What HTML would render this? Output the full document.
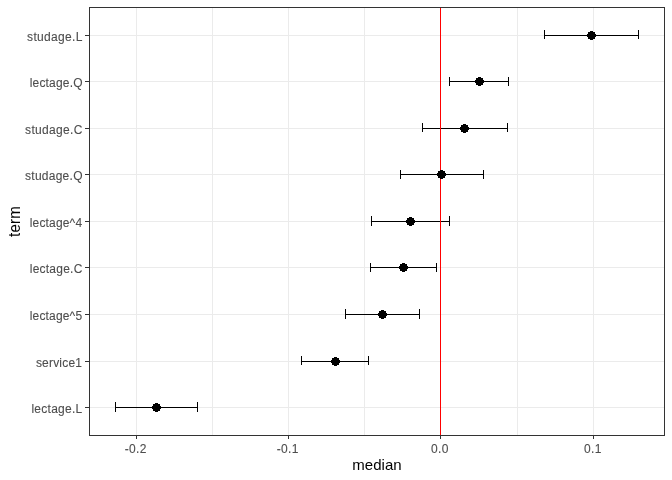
<!DOCTYPE html>
<html><head><meta charset="utf-8"><title>plot</title>
<style>
html,body{margin:0;padding:0;background:#fff;}
svg{display:block;}
text{font-family:"Liberation Sans",Arial,sans-serif;}
.ax{font-size:12px;fill:#4D4D4D;stroke:#4D4D4D;stroke-width:0.1px;}
.ti{font-size:15px;fill:#000;}
</style></head><body>
<svg width="672" height="480" viewBox="0 0 672 480">
<rect x="0" y="0" width="672" height="480" fill="#fff"/>
<g shape-rendering="crispEdges">
<rect x="212" y="7" width="1" height="428" fill="#EBEBEB"/>
<rect x="364" y="7" width="1" height="428" fill="#EBEBEB"/>
<rect x="517" y="7" width="1" height="428" fill="#EBEBEB"/>
<rect x="136" y="7" width="1" height="428" fill="#EBEBEB"/>
<rect x="288" y="7" width="1" height="428" fill="#EBEBEB"/>
<rect x="440" y="7" width="1" height="428" fill="#EBEBEB"/>
<rect x="593" y="7" width="1" height="428" fill="#EBEBEB"/>
<rect x="89" y="35" width="575" height="1" fill="#EBEBEB"/>
<rect x="89" y="81" width="575" height="1" fill="#EBEBEB"/>
<rect x="89" y="128" width="575" height="1" fill="#EBEBEB"/>
<rect x="89" y="174" width="575" height="1" fill="#EBEBEB"/>
<rect x="89" y="221" width="575" height="1" fill="#EBEBEB"/>
<rect x="89" y="267" width="575" height="1" fill="#EBEBEB"/>
<rect x="89" y="314" width="575" height="1" fill="#EBEBEB"/>
<rect x="89" y="361" width="575" height="1" fill="#EBEBEB"/>
<rect x="89" y="407" width="575" height="1" fill="#EBEBEB"/>
<rect x="544" y="35" width="95" height="1" fill="#000"/>
<rect x="544" y="30" width="1" height="9" fill="#000"/>
<rect x="638" y="30" width="1" height="9" fill="#000"/>
<rect x="449" y="81" width="60" height="1" fill="#000"/>
<rect x="449" y="77" width="1" height="9" fill="#000"/>
<rect x="508" y="77" width="1" height="9" fill="#000"/>
<rect x="422" y="128" width="86" height="1" fill="#000"/>
<rect x="422" y="123" width="1" height="9" fill="#000"/>
<rect x="507" y="123" width="1" height="9" fill="#000"/>
<rect x="400" y="174" width="84" height="1" fill="#000"/>
<rect x="400" y="170" width="1" height="9" fill="#000"/>
<rect x="483" y="170" width="1" height="9" fill="#000"/>
<rect x="371" y="221" width="79" height="1" fill="#000"/>
<rect x="371" y="216" width="1" height="10" fill="#000"/>
<rect x="449" y="216" width="1" height="10" fill="#000"/>
<rect x="370" y="267" width="67" height="1" fill="#000"/>
<rect x="370" y="263" width="1" height="9" fill="#000"/>
<rect x="436" y="263" width="1" height="9" fill="#000"/>
<rect x="345" y="314" width="75" height="1" fill="#000"/>
<rect x="345" y="309" width="1" height="10" fill="#000"/>
<rect x="419" y="309" width="1" height="10" fill="#000"/>
<rect x="301" y="361" width="68" height="1" fill="#000"/>
<rect x="301" y="356" width="1" height="9" fill="#000"/>
<rect x="368" y="356" width="1" height="9" fill="#000"/>
<rect x="115" y="407" width="83" height="1" fill="#000"/>
<rect x="115" y="402" width="1" height="10" fill="#000"/>
<rect x="197" y="402" width="1" height="10" fill="#000"/>
<rect x="440" y="7" width="1" height="428" fill="#FF0000"/>
<rect x="590" y="31" width="3" height="1" fill="#000"/>
<rect x="588" y="32" width="7" height="1" fill="#000"/>
<rect x="588" y="33" width="7" height="1" fill="#000"/>
<rect x="587" y="34" width="9" height="1" fill="#000"/>
<rect x="587" y="35" width="9" height="1" fill="#000"/>
<rect x="587" y="36" width="9" height="1" fill="#000"/>
<rect x="588" y="37" width="7" height="1" fill="#000"/>
<rect x="588" y="38" width="7" height="1" fill="#000"/>
<rect x="590" y="39" width="3" height="1" fill="#000"/>
<rect x="478" y="77" width="3" height="1" fill="#000"/>
<rect x="476" y="78" width="7" height="1" fill="#000"/>
<rect x="476" y="79" width="7" height="1" fill="#000"/>
<rect x="475" y="80" width="9" height="1" fill="#000"/>
<rect x="475" y="81" width="9" height="1" fill="#000"/>
<rect x="475" y="82" width="9" height="1" fill="#000"/>
<rect x="476" y="83" width="7" height="1" fill="#000"/>
<rect x="476" y="84" width="7" height="1" fill="#000"/>
<rect x="478" y="85" width="3" height="1" fill="#000"/>
<rect x="463" y="124" width="3" height="1" fill="#000"/>
<rect x="461" y="125" width="7" height="1" fill="#000"/>
<rect x="461" y="126" width="7" height="1" fill="#000"/>
<rect x="460" y="127" width="9" height="1" fill="#000"/>
<rect x="460" y="128" width="9" height="1" fill="#000"/>
<rect x="460" y="129" width="9" height="1" fill="#000"/>
<rect x="461" y="130" width="7" height="1" fill="#000"/>
<rect x="461" y="131" width="7" height="1" fill="#000"/>
<rect x="463" y="132" width="3" height="1" fill="#000"/>
<rect x="440" y="170" width="3" height="1" fill="#000"/>
<rect x="438" y="171" width="7" height="1" fill="#000"/>
<rect x="438" y="172" width="7" height="1" fill="#000"/>
<rect x="437" y="173" width="9" height="1" fill="#000"/>
<rect x="437" y="174" width="9" height="1" fill="#000"/>
<rect x="437" y="175" width="9" height="1" fill="#000"/>
<rect x="438" y="176" width="7" height="1" fill="#000"/>
<rect x="438" y="177" width="7" height="1" fill="#000"/>
<rect x="440" y="178" width="3" height="1" fill="#000"/>
<rect x="409" y="217" width="3" height="1" fill="#000"/>
<rect x="407" y="218" width="7" height="1" fill="#000"/>
<rect x="407" y="219" width="7" height="1" fill="#000"/>
<rect x="406" y="220" width="9" height="1" fill="#000"/>
<rect x="406" y="221" width="9" height="1" fill="#000"/>
<rect x="406" y="222" width="9" height="1" fill="#000"/>
<rect x="407" y="223" width="7" height="1" fill="#000"/>
<rect x="407" y="224" width="7" height="1" fill="#000"/>
<rect x="409" y="225" width="3" height="1" fill="#000"/>
<rect x="402" y="263" width="3" height="1" fill="#000"/>
<rect x="400" y="264" width="7" height="1" fill="#000"/>
<rect x="400" y="265" width="7" height="1" fill="#000"/>
<rect x="399" y="266" width="9" height="1" fill="#000"/>
<rect x="399" y="267" width="9" height="1" fill="#000"/>
<rect x="399" y="268" width="9" height="1" fill="#000"/>
<rect x="400" y="269" width="7" height="1" fill="#000"/>
<rect x="400" y="270" width="7" height="1" fill="#000"/>
<rect x="402" y="271" width="3" height="1" fill="#000"/>
<rect x="381" y="310" width="3" height="1" fill="#000"/>
<rect x="379" y="311" width="7" height="1" fill="#000"/>
<rect x="379" y="312" width="7" height="1" fill="#000"/>
<rect x="378" y="313" width="9" height="1" fill="#000"/>
<rect x="378" y="314" width="9" height="1" fill="#000"/>
<rect x="378" y="315" width="9" height="1" fill="#000"/>
<rect x="379" y="316" width="7" height="1" fill="#000"/>
<rect x="379" y="317" width="7" height="1" fill="#000"/>
<rect x="381" y="318" width="3" height="1" fill="#000"/>
<rect x="334" y="357" width="3" height="1" fill="#000"/>
<rect x="332" y="358" width="7" height="1" fill="#000"/>
<rect x="332" y="359" width="7" height="1" fill="#000"/>
<rect x="331" y="360" width="9" height="1" fill="#000"/>
<rect x="331" y="361" width="9" height="1" fill="#000"/>
<rect x="331" y="362" width="9" height="1" fill="#000"/>
<rect x="332" y="363" width="7" height="1" fill="#000"/>
<rect x="332" y="364" width="7" height="1" fill="#000"/>
<rect x="334" y="365" width="3" height="1" fill="#000"/>
<rect x="155" y="403" width="3" height="1" fill="#000"/>
<rect x="153" y="404" width="7" height="1" fill="#000"/>
<rect x="153" y="405" width="7" height="1" fill="#000"/>
<rect x="152" y="406" width="9" height="1" fill="#000"/>
<rect x="152" y="407" width="9" height="1" fill="#000"/>
<rect x="152" y="408" width="9" height="1" fill="#000"/>
<rect x="153" y="409" width="7" height="1" fill="#000"/>
<rect x="153" y="410" width="7" height="1" fill="#000"/>
<rect x="155" y="411" width="3" height="1" fill="#000"/>
<rect x="89.5" y="7.5" width="575" height="428" fill="none" stroke="#333333" stroke-width="1"/>
<rect x="85" y="35" width="4" height="1" fill="#333333"/>
<rect x="85" y="81" width="4" height="1" fill="#333333"/>
<rect x="85" y="128" width="4" height="1" fill="#333333"/>
<rect x="85" y="174" width="4" height="1" fill="#333333"/>
<rect x="85" y="221" width="4" height="1" fill="#333333"/>
<rect x="85" y="267" width="4" height="1" fill="#333333"/>
<rect x="85" y="314" width="4" height="1" fill="#333333"/>
<rect x="85" y="361" width="4" height="1" fill="#333333"/>
<rect x="85" y="407" width="4" height="1" fill="#333333"/>
<rect x="136" y="436" width="1" height="3" fill="#333333"/>
<rect x="288" y="436" width="1" height="3" fill="#333333"/>
<rect x="440" y="436" width="1" height="3" fill="#333333"/>
<rect x="593" y="436" width="1" height="3" fill="#333333"/>
</g>
<text class="ax" x="27.10" y="40.85" letter-spacing="0.313">studage.L</text>
<text class="ax" x="29.75" y="86.85" letter-spacing="0.169">lectage.Q</text>
<text class="ax" x="25.10" y="133.85" letter-spacing="0.313">studage.C</text>
<text class="ax" x="25.10" y="179.85" letter-spacing="0.250">studage.Q</text>
<text class="ax" x="29.75" y="226.85" letter-spacing="0.163">lectage^4</text>
<text class="ax" x="29.75" y="272.85" letter-spacing="0.231">lectage.C</text>
<text class="ax" x="29.75" y="319.85" letter-spacing="0.163">lectage^5</text>
<text class="ax" x="35.90" y="366.85" letter-spacing="0.200">service1</text>
<text class="ax" x="31.40" y="412.85" letter-spacing="0.275">lectage.L</text>
<text class="ax" x="124.80" y="452.8" letter-spacing="0.300">-0.2</text>
<text class="ax" x="276.65" y="452.8" letter-spacing="0.350">-0.1</text>
<text class="ax" x="431.00" y="452.8" letter-spacing="0.400">0.0</text>
<text class="ax" x="583.95" y="452.8" letter-spacing="0.375">0.1</text>
<text class="ti" x="352.35" y="469.95" letter-spacing="0.020">median</text>
<text class="ti" transform="translate(20.0,236.9) rotate(-90) scale(1,1.09)" x="0" y="0" letter-spacing="0.25">term</text>
</svg></body></html>
